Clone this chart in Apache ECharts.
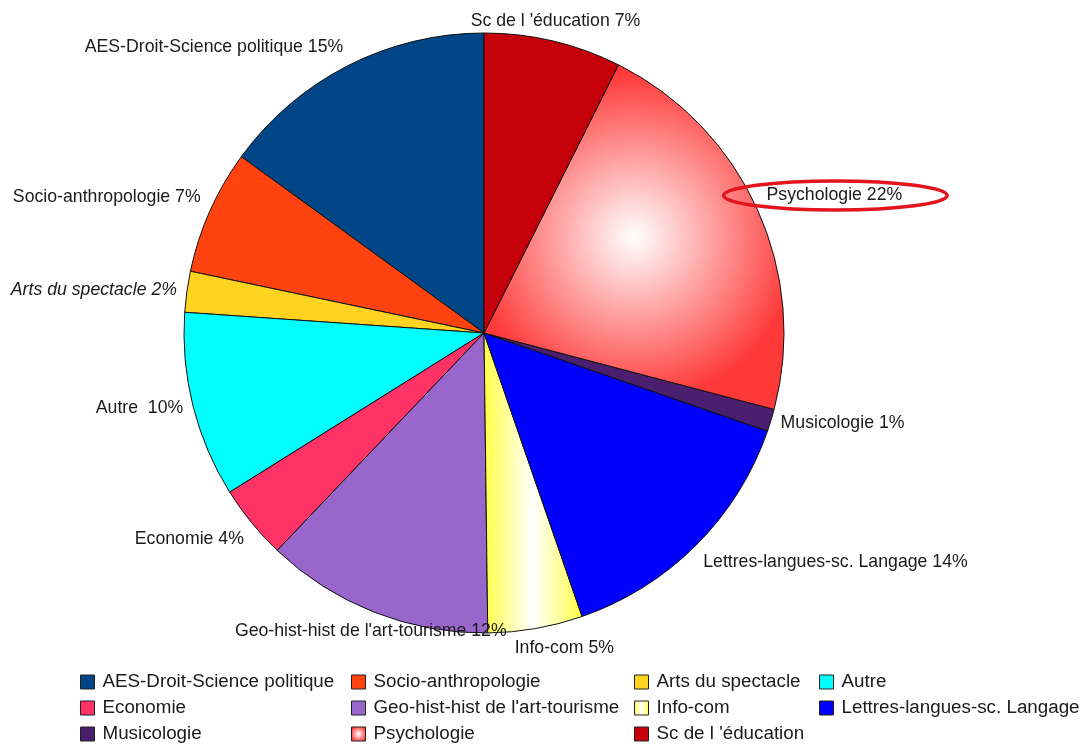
<!DOCTYPE html>
<html><head><meta charset="utf-8">
<script src="https://cdn.jsdelivr.net/npm/echarts@6/dist/echarts.min.js"></script>
<style>html,body{margin:0;padding:0;background:#fff}#c{width:1082px;height:747px}</style>
</head><body><div id="c"></div>
<script>
// ---- data ----
const categories = ['AES-Droit-Science politique', 'Socio-anthropologie', 'Arts du spectacle', 'Autre',
  'Economie', "Geo-hist-hist de l'art-tourisme", 'Info-com', 'Lettres-langues-sc. Langage',
  'Musicologie', 'Psychologie', "Sc de l 'éducation"];
const values = [15.0, 6.7, 2.2, 10.0, 4.0, 12.3, 5.1, 14.4, 1.2, 21.7, 7.4];
const highlighted = 'Psychologie';

// ---- styles ----
const FONT = '"Liberation Sans", Arial, sans-serif';
const LABEL_SIZE = 17.7, LABEL_LH = 20, LEGEND_SIZE = 18.8;
const CX = 484, CY = 333, RADIUS = 300, LABEL_R = 310;
const psyGrad = new echarts.graphic.RadialGradient(0.5, 0.5, 0.55, [
  {offset: 0, color: '#ffffff'}, {offset: 1, color: '#ff3838'}]);
const infoGrad = new echarts.graphic.LinearGradient(0, 0, 1, 0, [
  {offset: 0, color: '#ffff44'}, {offset: 0.5, color: '#ffffff'}, {offset: 1, color: '#ffff44'}]);
const colors = ['#004586', '#ff420e', '#ffd320', '#00ffff', '#ff3366', '#9966cc', infoGrad,
  '#0000ff', '#4b1f6f', psyGrad, '#c5000b'];
const labelOverrides = {'Arts du spectacle': {fontStyle: 'italic'}};

function labelText(name, pct) {
  return name + (name === 'Autre' ? '  ' : ' ') + Math.round(pct) + '%';
}

// ---- label layout (computed from data angles) ----
const total = values.reduce((a, b) => a + b, 0);
const ctx = document.createElement('canvas').getContext('2d');
const layouts = [];
let acc = 0;
values.forEach((v, i) => {
  const mid = (acc + v / 2) / total * 2 * Math.PI; acc += v;
  const dx = -Math.sin(mid), dy = -Math.cos(mid);
  const ax = CX + LABEL_R * dx, ay = CY + LABEL_R * dy;
  const ov = labelOverrides[categories[i]] || {};
  ctx.font = (ov.fontStyle ? ov.fontStyle + ' ' : '') + LABEL_SIZE + 'px ' + FONT;
  const w = ctx.measureText(labelText(categories[i], v / total * 100)).width;
  const h = LABEL_LH;
  const align = Math.abs(dx) < 0.4 ? 'center' : (dx < 0 ? 'right' : 'left');
  const valign = Math.abs(dy) < 0.38 ? 'middle' : (dy < 0 ? 'bottom' : 'top');
  let left = align === 'center' ? ax - w / 2 : (align === 'right' ? ax - w : ax);
  let top = valign === 'middle' ? ay - h / 2 : (valign === 'bottom' ? ay - h : ay);
  layouts.forEach(o => {
    if (left < o.left + o.w && left + w > o.left && top < o.top + o.h && top + h > o.top) {
      left = dx >= 0 ? o.left + o.w + 8 : o.left - w - 8;
    }
  });
  layouts.push({left, top, w, h});
});

const hi = layouts[categories.indexOf(highlighted)];

const legendCols = [80, 351, 634, 819];
const legends = legendCols.map((x, c) => ({
  orient: 'vertical', left: x, top: 672, height: 120, padding: 0,
  itemWidth: 14, itemHeight: 14, itemGap: 6,
  icon: 'rect', selectedMode: false,
  data: categories.filter((_, i) => i % 4 === c),
  textStyle: {fontFamily: FONT, fontSize: LEGEND_SIZE, color: '#1a1a1a', lineHeight: 20, padding: [0, 0, 0, 3]},
  itemStyle: {borderColor: '#222', borderWidth: 1}
}));

const chart = echarts.init(document.getElementById('c'));
chart.setOption({
  animation: false,
  backgroundColor: '#ffffff',
  legend: legends,
  graphic: [{
    type: 'ellipse', z: 100,
    shape: {cx: hi.left + hi.w / 2 + 1, cy: hi.top + hi.h / 2, rx: hi.w / 2 + 44, ry: 14.5},
    style: {fill: 'none', stroke: '#e3141c', lineWidth: 3.5}
  }],
  series: [{
    type: 'pie', center: [CX, CY], radius: RADIUS, startAngle: 90, clockwise: false,
    avoidLabelOverlap: false,
    label: {show: true, position: 'outside', fontFamily: FONT, fontSize: LABEL_SIZE, lineHeight: LABEL_LH,
      color: '#1a1a1a', formatter: p => labelText(p.name, p.percent)},
    labelLine: {show: false},
    labelLayout: p => {
      const L = layouts[p.dataIndex];
      return {x: L.left, y: L.top, align: 'left', verticalAlign: 'top'};
    },
    itemStyle: {borderColor: '#111', borderWidth: 1},
    emphasis: {disabled: true},
    data: categories.map((name, i) => ({
      name, value: values[i], itemStyle: {color: colors[i]}, label: labelOverrides[name] || {}
    }))
  }]
});
</script></body></html>
